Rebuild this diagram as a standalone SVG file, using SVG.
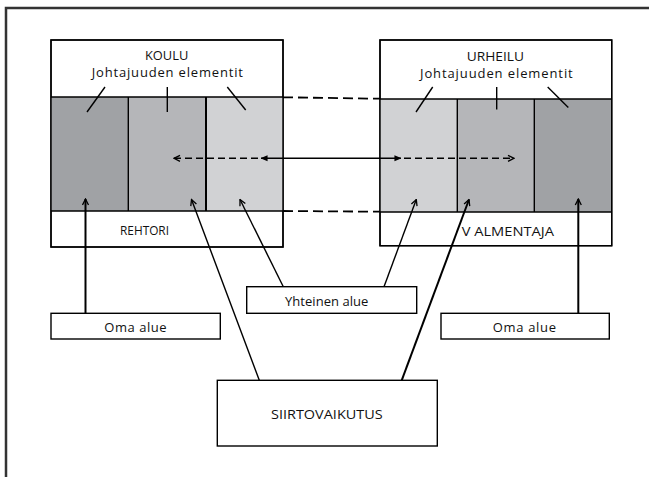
<svg xmlns="http://www.w3.org/2000/svg" width="649" height="477" viewBox="0 0 649 477">
<defs>
<style>
text{font-family:"Open Sans","Liberation Sans",Arial,sans-serif;font-size:13px;fill:#111;}
.box{fill:#fff;stroke:#000;stroke-width:1.4;}
.edge{fill:none;stroke:#000;stroke-width:1.4;}
.thick{stroke-width:2;}
.dash{fill:none;stroke:#000;stroke-width:1.8;stroke-dasharray:10 5;}
.dash2{fill:none;stroke:#000;stroke-width:1.6;stroke-dasharray:7 4;}
.dark{fill:#a0a2a5;}
.mid{fill:#b5b6b9;}
.light{fill:#d1d2d4;}
</style>
<marker id="open" viewBox="0 0 8 8" refX="7" refY="4" markerWidth="8" markerHeight="8" markerUnits="userSpaceOnUse" orient="auto">
<path d="M1,1 L7,4 L1,7" fill="none" stroke="#000" stroke-width="1.3"/>
</marker>
<marker id="solid" viewBox="0 0 8 8" refX="7.5" refY="4" markerWidth="7" markerHeight="7" markerUnits="userSpaceOnUse" orient="auto-start-reverse">
<path d="M0,0.5 L8,4 L0,7.5 Z" fill="#000"/>
</marker>
</defs>
<rect width="649" height="477" fill="#fff"/>
<path d="M6,477 V8 H649" fill="none" stroke="#333" stroke-width="2.5"/>

<g id="koulu">
<rect class="box" x="51" y="40" width="232" height="207"/>
<rect class="dark" x="51" y="97" width="77.3" height="114"/>
<rect class="mid" x="128.3" y="97" width="77.7" height="114"/>
<rect class="light" x="206" y="97" width="77" height="114"/>
<rect x="51" y="40" width="232" height="207" fill="none" stroke="#000" stroke-width="1.4"/>
<line class="edge" x1="51" y1="97" x2="283" y2="97"/>
<line class="edge" x1="51" y1="211" x2="283" y2="211"/>
<line class="edge" x1="128.3" y1="97" x2="128.3" y2="211"/>
<line class="edge thick" x1="206" y1="97" x2="206" y2="211"/>
<text x="145" y="60" textLength="43.3" lengthAdjust="spacingAndGlyphs">KOULU</text>
<text x="91.7" y="77" textLength="151.3" lengthAdjust="spacing">Johtajuuden elementit</text>
<text x="120" y="235" textLength="49" lengthAdjust="spacingAndGlyphs">REHTORI</text>
<line class="edge" x1="105" y1="87" x2="87" y2="112"/>
<line class="edge" x1="167.3" y1="87" x2="167.3" y2="112"/>
<line class="edge" x1="227.3" y1="87" x2="245.7" y2="110"/>
</g>

<g id="urheilu">
<rect class="box" x="380" y="40" width="231.7" height="205.7"/>
<rect class="light" x="380" y="99" width="77.3" height="113"/>
<rect class="mid" x="457.3" y="99" width="77" height="113"/>
<rect class="dark" x="534.3" y="99" width="77.4" height="113"/>
<rect x="380" y="40" width="231.7" height="205.7" fill="none" stroke="#000" stroke-width="1.4"/>
<line class="edge" x1="380" y1="99" x2="611.7" y2="99"/>
<line class="edge" x1="380" y1="212" x2="611.7" y2="212"/>
<line class="edge" x1="457.3" y1="99" x2="457.3" y2="212"/>
<line class="edge" x1="534.3" y1="99" x2="534.3" y2="212"/>
<text x="466.7" y="60.5" textLength="57.3" lengthAdjust="spacingAndGlyphs">URHEILU</text>
<text x="420" y="77.5" textLength="152.7" lengthAdjust="spacing">Johtajuuden elementit</text>
<text x="461.7" y="235.7" textLength="92.3" lengthAdjust="spacingAndGlyphs">V ALMENTAJA</text>
<line class="edge" x1="432.7" y1="87" x2="416" y2="112"/>
<line class="edge" x1="496.7" y1="87" x2="496.7" y2="109.5"/>
<line class="edge" x1="547.7" y1="87" x2="568.3" y2="107.5"/>
</g>

<g id="oma-alue-left">
<rect class="box" x="51" y="313.3" width="169.3" height="25.7"/>
<text x="104.3" y="331.5" textLength="62.3" lengthAdjust="spacing">Oma alue</text>
</g>

<g id="yhteinen-alue">
<rect class="box" x="246.7" y="286.7" width="170" height="26.6"/>
<text x="285" y="306" textLength="83.3" lengthAdjust="spacing">Yhteinen alue</text>
</g>

<g id="oma-alue-right">
<rect class="box" x="441" y="313.3" width="168.3" height="25.7"/>
<text x="492.7" y="331.5" textLength="63.3" lengthAdjust="spacing">Oma alue</text>
</g>

<g id="siirtovaikutus">
<rect class="box" x="217.3" y="380.3" width="220" height="65.7"/>
<text x="271" y="419.3" textLength="111.7" lengthAdjust="spacingAndGlyphs">SIIRTOVAIKUTUS</text>
</g>

<g id="connectors">
<line class="dash" x1="283" y1="97.3" x2="380" y2="98.7"/>
<line class="dash" x1="283" y1="211" x2="380" y2="211.7"/>
<line class="edge" x1="261" y1="158.3" x2="401" y2="158.3" marker-start="url(#solid)" marker-end="url(#solid)"/>
<line class="dash2" x1="258" y1="158.3" x2="174" y2="158.3" marker-end="url(#open)"/>
<line class="dash2" x1="404" y1="158.3" x2="514" y2="158.3" marker-end="url(#open)"/>
<line class="edge thick" x1="85.5" y1="313.3" x2="85.5" y2="199" marker-end="url(#open)"/>
<line class="edge" x1="259.3" y1="380.3" x2="191.5" y2="199.5" marker-end="url(#open)"/>
<line class="edge" x1="283.3" y1="286.7" x2="240" y2="199.5" marker-end="url(#open)"/>
<line class="edge" x1="384" y1="286.7" x2="416.3" y2="199.5" marker-end="url(#open)"/>
<line class="edge thick" x1="401.7" y1="380.3" x2="469" y2="199.5" marker-end="url(#open)"/>
<line class="edge thick" x1="578.3" y1="313.3" x2="578.3" y2="199" marker-end="url(#open)"/>
</g>
</svg>
